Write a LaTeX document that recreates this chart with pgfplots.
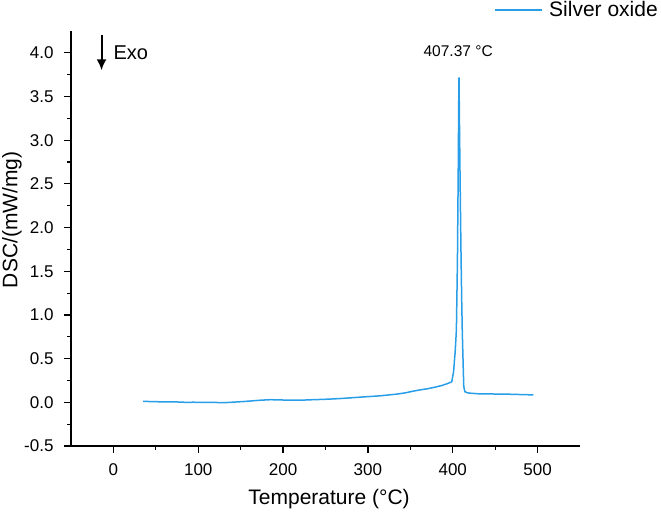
\documentclass[border=0pt]{standalone}
\usepackage{fontspec}
\setmainfont{Liberation Sans}
\usepackage{pgfplots}
\pgfplotsset{compat=1.18}
\usetikzlibrary{arrows.meta}
\definecolor{dsc}{RGB}{40,158,232}
\begin{document}
\begin{tikzpicture}[x=1pt,y=1pt]
\path[use as bounding box] (0,0) rectangle (661,515);
\begin{axis}[
  at={(71pt,69pt)}, anchor=south west,
  scale only axis, width=509pt, height=415pt,
  xmin=-50, xmax=550, ymin=-0.5, ymax=4.25,
  axis x line*=bottom, axis y line*=left,
  axis line style={line width=1.2pt, black},
  every tick/.style={line width=1.2pt, black},
  tick align=outside,
  major tick length=7pt, minor tick length=4pt,
  xtick={0,100,...,500}, ytick={-0.5,0,...,4.0},
  minor x tick num=1, minor y tick num=1,
  /pgf/number format/assume math mode=true,
  yticklabel style={/pgf/number format/fixed, /pgf/number format/fixed zerofill, /pgf/number format/precision=1, xshift=-7pt},
  xticklabel style={/pgf/number format/fixed, /pgf/number format/precision=0, yshift=-7pt},
  ticklabel style={font=\fontsize{17}{20}\selectfont},
  xlabel={Temperature (°C)}, ylabel={DSC/(mW/mg)},
  label style={font=\fontsize{21}{25}\selectfont},
  xlabel style={at={(axis description cs:0.507,-0.128)}, anchor=center},
  ylabel style={at={(axis description cs:-0.116,0.545)}, anchor=center},
  clip=false,
  legend style={at={(axis description cs:1.1532,1.0506)}, anchor=east, draw=none, fill=none,
    font=\fontsize{21}{25}\selectfont, inner sep=0pt, nodes={inner sep=0pt}, column sep=6pt},
  legend image code/.code={\draw[#1] (0pt,0pt) -- (47pt,0pt);},
]
\addplot[color=dsc, line width=1.5pt] coordinates {
(35,0.012) (45,0.008) (55,0.006) (65,0.005) (75,0.004) (85,0.000) (95,0.001)
(105,-0.002) (115,0.000) (125,-0.003) (135,-0.002) (145,0.004) (155,0.010)
(165,0.018) (175,0.025) (185,0.030) (195,0.028) (205,0.025) (215,0.024)
(225,0.026) (235,0.030) (245,0.033) (255,0.037) (265,0.042) (275,0.048)
(285,0.055) (295,0.062) (305,0.068) (315,0.075) (325,0.085) (335,0.095)
(345,0.110) (352,0.125) (360,0.140) (370,0.155) (380,0.175) (388,0.195)
(394,0.215) (398.8,0.235) (401,0.35) (403,0.60) (404.3,0.83) (405.5,1.6)
(406.5,2.7) (407,3.4) (407.37,3.72) (407.8,3.3) (408.6,2.6) (409.6,1.8)
(410.5,1.2) (411.2,0.83) (412.2,0.45) (413,0.18) (414.3,0.122)
(417,0.11) (420,0.105) (430,0.098) (450,0.095) (470,0.092)
(480,0.089) (495,0.085)
};
\addlegendentry{Silver oxide}
\node[font=\fontsize{15.5}{18}\selectfont, inner sep=0pt] at (axis cs:406.4,4.017) {407.37 °C};
\draw[-{Latex[length=11pt,width=10pt]}, line width=2pt] (axis cs:-14,4.208) -- (axis cs:-14,3.80);
\node[anchor=west, inner sep=0pt, font=\fontsize{20}{24}\selectfont] at (axis cs:0,4.0) {Exo};
\end{axis}
\end{tikzpicture}
\end{document}
